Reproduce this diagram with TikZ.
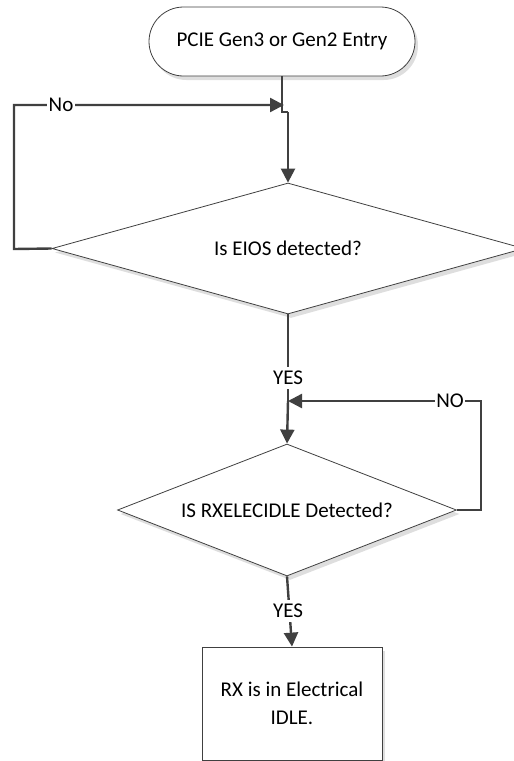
\documentclass[tikz,border=0pt]{standalone}
\usepackage{fontspec}
\setmainfont{Carlito}
\usetikzlibrary{shapes.geometric,shapes.misc,arrows.meta,shadows}
\begin{document}
\begin{tikzpicture}[x=1pt,y=-1pt,
  font=\fontsize{21}{28}\selectfont,
  shp/.style={draw=black!75,line width=0.8pt,fill=white,
    drop shadow={shadow xshift=3pt,shadow yshift=-4pt,fill=black!13,opacity=1}},
  conn/.style={draw=black!75,line width=2.4pt},
  arr/.style={conn,-{Triangle[length=14pt,width=14pt]}},
  lbl/.style={fill=white,inner sep=1.5pt}]
\useasboundingbox (0,0) rectangle (514,761);
\clip (0,0) rectangle (514,761);
\node[shp,rounded rectangle,minimum width=266pt,minimum height=69pt,inner sep=0pt] (term) at (282,41.5) {PCIE Gen3 or Gen2 Entry};
\node[shp,diamond,aspect=3.6,minimum width=472pt,minimum height=131pt,inner sep=0pt] (d1) at (288,248.5) {Is EIOS detected?};
\node[shp,diamond,aspect=2.57,minimum width=339pt,minimum height=132pt,inner sep=0pt] (d2) at (287,510) {IS RXELECIDLE Detected?};
\node[shp,rectangle,minimum width=180pt,minimum height=113pt,inner sep=0pt,align=center] (box) at (292,703.5) {RX is in Electrical\\IDLE.};
% entry to decision 1
\coordinate (m1) at (284,105);
\coordinate (j1) at (282,112);
\coordinate (j2) at (288,112);
\draw[conn] (term.south) -- (j1) -- (j2);
\draw[arr] (j2) -- (d1.north);
% No loop
\coordinate (nl1) at (14,249);
\coordinate (nl2) at (14,105);
\draw[arr] (d1.west) -- (nl1) -- (nl2) -- (m1);
\node[lbl] (no1) at (61,105) {No};
% decision 1 to decision 2
\coordinate (m2) at (288,401);
\draw[conn] (d1.south) -- (m2);
\draw[arr] (m2) -- (d2.north);
\node[lbl,inner ysep=4pt] (yes1) at (288,378) {YES};
% NO loop
\coordinate (nr1) at (481,510);
\coordinate (nr2) at (481,401);
\draw[arr] (d2.east) -- (nr1) -- (nr2) -- (m2);
\node[lbl] (no2) at (450,401) {NO};
% decision 2 to box
\draw[arr] (d2.south) -- (box.north);
\node[lbl,inner ysep=4pt] (yes2) at (288,611) {YES};
\end{tikzpicture}
\end{document}
